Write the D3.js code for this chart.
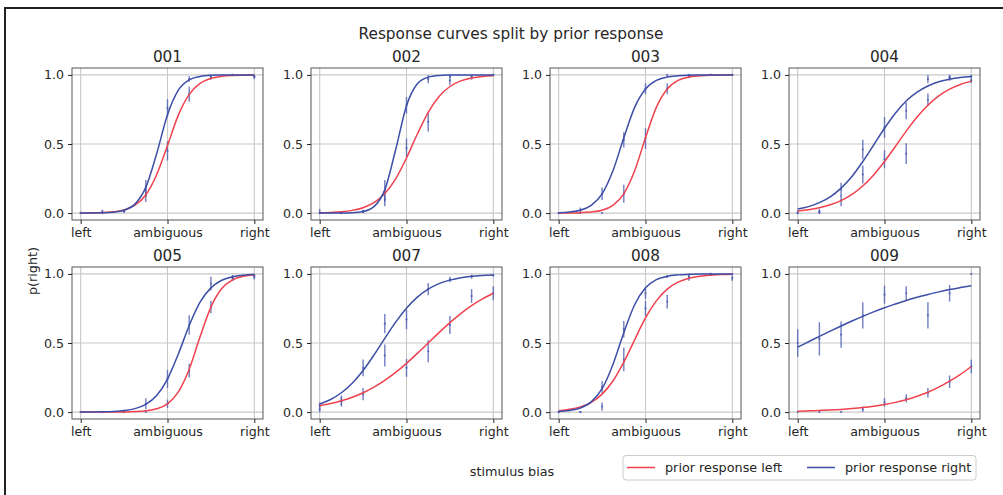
<!DOCTYPE html>
<html lang="en">
<head>
<meta charset="utf-8">
<script src="https://d3js.org/d3.v7.min.js"></script>
<style>
  body { margin: 0; background: #fff; }
  svg { display: block; font-family: "DejaVu Sans", sans-serif; }
  .tick text { font-family: "DejaVu Sans", sans-serif; font-size: 12.6px; fill: #262626; }
  .tick line { stroke: #262626; }
  .domain { display: none; }
</style>
</head>
<body>
<div id="chart"></div>
<script>
"use strict"
// ---- data ----
const panelNames = ["001", "002", "003", "004", "005", "007", "008", "009"];
const stimulusLevels = [0, 1, 2, 3, 4, 5, 6, 7, 8];
const xTicks = [0, 4, 8];
const xTickLabels = ["left", "ambiguous", "right"];
const yTicks = [0, 0.5, 1];
const seriesNames = ["prior response left", "prior response right"];

// fitted curves, sampled at these stimulus positions
const fitX = [0, 0.5, 1, 1.5, 2, 2.5, 3, 3.5, 4, 4.5, 5, 5.5, 6, 6.5, 7, 7.5, 8];
const fitLeft = [
  [0.0006, 0.0015, 0.0037, 0.0094, 0.023, 0.057, 0.131, 0.277, 0.49, 0.709, 0.859, 0.939, 0.975, 0.990, 0.996, 0.998, 0.999],
  [0.0025, 0.0049, 0.0099, 0.0196, 0.039, 0.075, 0.141, 0.248, 0.399, 0.572, 0.729, 0.844, 0.916, 0.957, 0.978, 0.989, 0.994],
  [0.0004, 0.0011, 0.003, 0.008, 0.021, 0.056, 0.139, 0.306, 0.545, 0.765, 0.898, 0.96, 0.985, 0.994, 0.998, 0.999, 1],
  [0.016, 0.025, 0.039, 0.060, 0.090, 0.135, 0.196, 0.276, 0.373, 0.482, 0.593, 0.695, 0.781, 0.848, 0.897, 0.931, 0.955],
  [0, 0.0001, 0.0002, 0.0005, 0.0013, 0.0034, 0.009, 0.024, 0.060, 0.146, 0.31, 0.545, 0.76, 0.894, 0.957, 0.983, 0.994],
  [0.046, 0.062, 0.082, 0.107, 0.14, 0.181, 0.23, 0.287, 0.353, 0.425, 0.5, 0.575, 0.647, 0.713, 0.77, 0.819, 0.86],
  [0.010, 0.020, 0.038, 0.071, 0.13, 0.225, 0.361, 0.523, 0.681, 0.805, 0.89, 0.94, 0.968, 0.983, 0.991, 0.996, 0.998],
  [0.0069, 0.0089, 0.0117, 0.0151, 0.0196, 0.0256, 0.0329, 0.0427, 0.0552, 0.0704, 0.090, 0.115, 0.144, 0.181, 0.224, 0.273, 0.33]
];
const fitRight = [
  [0.0002, 0.0006, 0.002, 0.0064, 0.021, 0.065, 0.186, 0.43, 0.712, 0.89, 0.964, 0.989, 0.997, 0.999, 1, 1, 1],
  [0, 0.0002, 0.0007, 0.0028, 0.0115, 0.047, 0.168, 0.458, 0.777, 0.936, 0.984, 0.996, 0.999, 1, 1, 1, 1],
  [0.003, 0.008, 0.021, 0.056, 0.139, 0.306, 0.545, 0.765, 0.898, 0.96, 0.985, 0.994, 0.998, 0.999, 1, 1, 1],
  [0.030, 0.047, 0.076, 0.118, 0.181, 0.265, 0.373, 0.493, 0.614, 0.723, 0.811, 0.875, 0.920, 0.950, 0.969, 0.981, 0.988],
  [0.0004, 0.0009, 0.0021, 0.0048, 0.011, 0.025, 0.056, 0.12, 0.239, 0.421, 0.627, 0.796, 0.899, 0.954, 0.980, 0.991, 0.996],
  [0.058, 0.091, 0.140, 0.209, 0.301, 0.413, 0.534, 0.651, 0.752, 0.832, 0.890, 0.930, 0.955, 0.972, 0.983, 0.989, 0.993],
  [0.005, 0.012, 0.030, 0.074, 0.169, 0.345, 0.575, 0.777, 0.899, 0.958, 0.983, 0.993, 0.997, 0.999, 1, 1, 1],
  [0.470, 0.509, 0.548, 0.586, 0.623, 0.659, 0.693, 0.725, 0.755, 0.782, 0.808, 0.831, 0.851, 0.870, 0.887, 0.901, 0.914]
];

// observed proportions and error bar half-widths, one row per panel
const obsLeft = [
  [0.0, 0.0, 0.015, 0.13, 0.45, 0.86, 0.98, 1.0, 0.985],
  [0.0, 0.0, 0.01, 0.1, 0.47, 0.66, 0.96, 0.98, 1.0],
  [0.0, 0.0, 0.0, 0.14, 0.54, 0.9, 0.99, 1.0, 1.0],
  [0.0, 0.0, 0.09, 0.28, 0.39, 0.43, 0.82, 0.98, 0.96],
  [0.0, 0.0, 0.0, 0.0, 0.06, 0.3, 0.76, 0.97, 0.98],
  [0.05, 0.08, 0.13, 0.41, 0.32, 0.44, 0.63, 0.84, 0.86],
  [0.0, 0.0, 0.04, 0.38, 0.75, 0.8, 0.97, 1.0, 1.0],
  [0.0, 0.0, 0.0, 0.02, 0.07, 0.1, 0.14, 0.22, 0.33]
];
const errLeft = [
  [0.005, 0.005, 0.01, 0.05, 0.07, 0.055, 0.015, 0.005, 0.015],
  [0.01, 0.005, 0.01, 0.05, 0.07, 0.07, 0.035, 0.015, 0.005],
  [0.005, 0.005, 0.005, 0.065, 0.075, 0.04, 0.015, 0.005, 0.005],
  [0.01, 0.02, 0.04, 0.065, 0.065, 0.075, 0.045, 0.02, 0.02],
  [0.005, 0.005, 0.005, 0.005, 0.03, 0.05, 0.045, 0.02, 0.02],
  [0.02, 0.03, 0.045, 0.08, 0.065, 0.08, 0.065, 0.05, 0.05],
  [0.005, 0.005, 0.03, 0.085, 0.055, 0.05, 0.02, 0.005, 0.005],
  [0.005, 0.005, 0.005, 0.02, 0.03, 0.03, 0.035, 0.045, 0.05]
];
const obsRight = [
  [0.0, 0.01, 0.015, 0.18, 0.76, 0.97, 0.99, 1.0, 0.99],
  [0.0, 0.0, 0.01, 0.16, 0.78, 0.97, 0.99, 0.99, 1.0],
  [0.0, 0.02, 0.14, 0.53, 0.9, 1.0, 1.0, 1.0, 1.0],
  [0.0, 0.01, 0.17, 0.46, 0.62, 0.74, 0.97, 0.98, 0.99],
  [0.0, 0.0, 0.0, 0.06, 0.24, 0.63, 0.93, 0.97, 0.99],
  [0.02, 0.08, 0.32, 0.64, 0.67, 0.89, 0.96, 0.98, 0.99],
  [0.0, 0.0, 0.18, 0.6, 0.86, 0.98, 0.98, 1.0, 0.97],
  [0.5, 0.53, 0.56, 0.7, 0.85, 0.86, 0.7, 0.86, 1.0]
];
const errRight = [
  [0.01, 0.015, 0.015, 0.06, 0.065, 0.02, 0.01, 0.005, 0.01],
  [0.03, 0.005, 0.015, 0.08, 0.06, 0.03, 0.01, 0.01, 0.005],
  [0.005, 0.02, 0.045, 0.055, 0.04, 0.01, 0.005, 0.005, 0.005],
  [0.02, 0.02, 0.05, 0.07, 0.075, 0.06, 0.03, 0.02, 0.01],
  [0.005, 0.005, 0.005, 0.04, 0.065, 0.07, 0.05, 0.02, 0.02],
  [0.02, 0.04, 0.06, 0.07, 0.07, 0.045, 0.02, 0.015, 0.01],
  [0.005, 0.005, 0.045, 0.06, 0.04, 0.01, 0.015, 0.005, 0.02],
  [0.1, 0.12, 0.095, 0.095, 0.065, 0.05, 0.095, 0.06, 0.005]
];

// ---- layout ----
const W = 1003, H = 495;
const colLeft = [72, 311, 550, 789], rowTop = [68, 267];
const axW = 191, axH = 152;
const colors = ["#ef424e", "#3d4ea6"];
const barColor = "#4d5eb3";

const svg = d3.select("#chart").append("svg").attr("width", W).attr("height", H);

// figure frame (only top and left edges show)
svg.append("line").attr("x1", 4).attr("x2", W).attr("y1", 8).attr("y2", 8)
  .attr("stroke", "#222").attr("stroke-width", 2);
svg.append("line").attr("x1", 5).attr("x2", 5).attr("y1", 7).attr("y2", H)
  .attr("stroke", "#222").attr("stroke-width", 2);

svg.append("text").attr("x", 511).attr("y", 39).attr("text-anchor", "middle")
  .style("font-size", "15.3px").attr("fill", "#262626")
  .text("Response curves split by prior response");

panelNames.forEach((name, i) => {
  const left = colLeft[i % 4], top = rowTop[Math.floor(i / 4)];
  const x = d3.scaleLinear().domain([-0.4, 8.4]).range([0, axW]);
  const y = d3.scaleLinear().domain([-0.05, 1.05]).range([axH, 0]);
  const g = svg.append("g").attr("transform", `translate(${left},${top})`);

  // grid
  g.selectAll(".gx").data(xTicks).enter().append("line")
    .attr("x1", d => x(d)).attr("x2", d => x(d)).attr("y1", 0).attr("y2", axH)
    .attr("stroke", "#c8c8c8").attr("stroke-width", 1.1);
  g.selectAll(".gy").data(yTicks).enter().append("line")
    .attr("x1", 0).attr("x2", axW).attr("y1", d => y(d)).attr("y2", d => y(d))
    .attr("stroke", "#c8c8c8").attr("stroke-width", 1.1);

  // error bars + points
  [[obsLeft[i], errLeft[i]], [obsRight[i], errRight[i]]].forEach(([obs, err]) => {
    const pts = stimulusLevels.map((s, j) => ({ s: s, p: obs[j], e: err[j] }));
    g.selectAll(null).data(pts).enter().append("line")
      .attr("x1", d => x(d.s)).attr("x2", d => x(d.s))
      .attr("y1", d => y(Math.max(0, d.p - d.e))).attr("y2", d => y(Math.min(1, d.p + d.e)))
      .attr("stroke", barColor).attr("stroke-width", 1.4).attr("opacity", 0.8);
    g.selectAll(null).data(pts).enter().append("circle")
      .attr("cx", d => x(d.s)).attr("cy", d => y(d.p)).attr("r", 1.1)
      .attr("fill", barColor).attr("opacity", 0.8);
  });

  // fitted curves
  const line = d3.line().x(d => x(d[0])).y(d => y(d[1])).curve(d3.curveMonotoneX);
  [fitLeft[i], fitRight[i]].forEach((fit, k) => {
    g.append("path").datum(fitX.map((fx, j) => [fx, fit[j]]))
      .attr("d", line).attr("fill", "none")
      .attr("stroke", colors[k]).attr("stroke-width", 1.5);
  });

  // frame
  g.append("rect").attr("width", axW).attr("height", axH)
    .attr("fill", "none").attr("stroke", "#555").attr("stroke-width", 1);

  // axes
  g.append("g").attr("transform", `translate(0,${axH})`)
    .call(d3.axisBottom(x).tickValues(xTicks).tickFormat((d, j) => xTickLabels[j])
      .tickSize(4).tickPadding(4));
  g.append("g")
    .call(d3.axisLeft(y).tickValues(yTicks).tickFormat(d3.format(".1f"))
      .tickSize(4).tickPadding(4));

  g.append("text").attr("x", axW / 2).attr("y", -6).attr("text-anchor", "middle")
    .style("font-size", "15.3px").attr("fill", "#262626").text(name);
});

// shared axis labels
svg.append("text").attr("transform", "translate(37,271) rotate(-90)")
  .attr("text-anchor", "middle").style("font-size", "12.8px").attr("fill", "#262626")
  .text("p(right)");
svg.append("text").attr("x", 512).attr("y", 476).attr("text-anchor", "middle")
  .style("font-size", "12.8px").attr("fill", "#262626").text("stimulus bias");

// legend
const lg = svg.append("g");
lg.append("rect").attr("x", 623).attr("y", 455.5).attr("width", 353).attr("height", 24.5)
  .attr("rx", 3).attr("fill", "#fff").attr("stroke", "#cccccc");
const legendX = [627, 807];
seriesNames.forEach((s, k) => {
  lg.append("line").attr("x1", legendX[k]).attr("x2", legendX[k] + 28)
    .attr("y1", 467.5).attr("y2", 467.5).attr("stroke", colors[k]).attr("stroke-width", 1.5);
  lg.append("text").attr("x", legendX[k] + 38).attr("y", 472)
    .style("font-size", "12.8px").attr("fill", "#262626").text(s);
});
</script>
</body>
</html>
